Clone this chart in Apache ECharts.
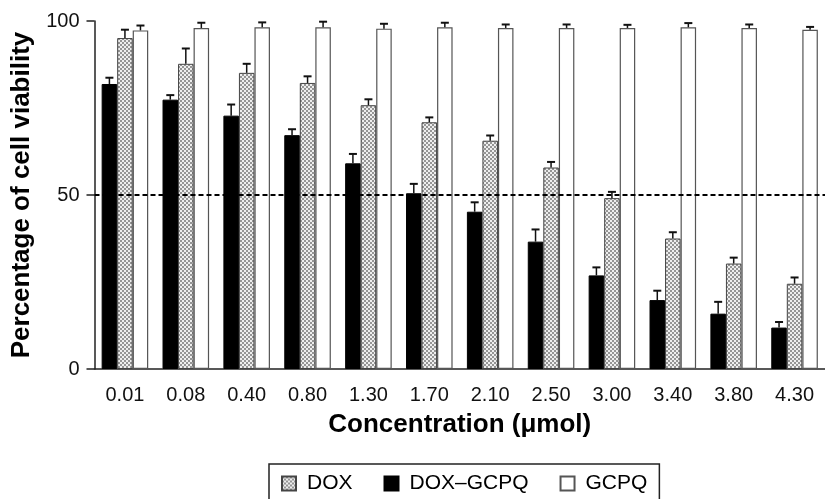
<!DOCTYPE html>
<html>
<head>
<meta charset="utf-8">
<script src="https://cdn.jsdelivr.net/npm/echarts@6/dist/echarts.min.js"></script>
<style>
html,body{margin:0;padding:0;background:#fff;}
#chart{width:825px;height:499px;}
</style>
</head>
<body>
<div id="chart"></div>
<script>
var categories = ['0.01','0.08','0.40','0.80','1.30','1.70','2.10','2.50','3.00','3.40','3.80','4.30'];
var doxGcpq    = [81.9, 77.4, 72.8, 67.2, 59.1, 50.5, 45.2, 36.6, 26.9, 19.8, 15.9, 11.9];
var doxGcpqErr = [1.8, 1.3, 3.2, 1.7, 2.7, 2.7, 2.7, 3.5, 2.3, 2.7, 3.4, 1.6];
var dox        = [95.1, 87.7, 85.1, 82.2, 75.8, 70.9, 65.6, 57.9, 49.1, 37.5, 30.3, 24.5];
var doxErr     = [2.4, 4.4, 2.6, 1.9, 1.7, 1.4, 1.5, 1.6, 1.8, 1.8, 1.7, 1.8];
var gcpq       = [97.3, 98.0, 98.2, 98.2, 97.8, 98.2, 98.0, 98.0, 98.0, 98.2, 98.0, 97.5];
var gcpqErr    = [1.4, 1.5, 1.4, 1.6, 1.4, 1.3, 1.0, 1.0, 0.9, 1.2, 1.0, 0.8];
var yTicks = [0, 50, 100];
var threshold = 50;

var FONT = "'Liberation Sans', Arial, sans-serif";
var BAR_FRAC = 0.255;

// checker pattern for DOX
var pc = document.createElement('canvas');
pc.width = 4; pc.height = 4;
var pctx = pc.getContext('2d');
pctx.fillStyle = '#eeeeee'; pctx.fillRect(0,0,4,4);
pctx.fillStyle = '#959595';
pctx.fillRect(0,0,2,2); pctx.fillRect(2,2,2,2);
var hatch = {image: pc, repeat: 'repeat'};

var groups = [
  {vals: doxGcpq, errs: doxGcpqErr},
  {vals: dox, errs: doxErr},
  {vals: gcpq, errs: gcpqErr}
];
var errData = [];
groups.forEach(function(g, k){
  g.vals.forEach(function(v, i){ errData.push([i, v, v + g.errs[i], k]); });
});

var chart = echarts.init(document.getElementById('chart'), null, {renderer: 'canvas'});
chart.setOption({
  animation: false,
  backgroundColor: '#fff',
  grid: {left: 94.5, top: 21, width: 740, height: 348, containLabel: false},
  legend: {
    left: 269, top: 464,
    data: ['DOX', 'DOX–GCPQ', 'GCPQ'],
    icon: 'rect',
    itemWidth: 14, itemHeight: 14, itemGap: 31,
    padding: [9, 12, 20, 12],
    borderColor: '#222', borderWidth: 1.5,
    textStyle: {fontFamily: FONT, fontSize: 21, color: '#000', padding: [0, 0, 0, 6]}
  },
  xAxis: {
    type: 'category',
    data: categories,
    name: 'Concentration (μmol)',
    nameLocation: 'middle',
    nameGap: 43,
    nameTextStyle: {fontFamily: FONT, fontSize: 26, fontWeight: 'bold', color: '#000'},
    axisLine: {lineStyle: {color: '#222', width: 1.5}},
    axisTick: {alignWithLabel: true, length: 6, lineStyle: {color: '#222', width: 1.5}},
    axisLabel: {fontFamily: FONT, fontSize: 20, color: '#111', margin: 16}
  },
  yAxis: {
    type: 'value',
    min: 0, max: 100, interval: 50,
    name: 'Percentage of cell viability',
    nameLocation: 'middle',
    nameGap: 60,
    nameTextStyle: {fontFamily: FONT, fontSize: 26, fontWeight: 'bold', color: '#000'},
    axisLine: {show: true, lineStyle: {color: '#222', width: 1.5}},
    axisTick: {show: true, length: 8, lineStyle: {color: '#222', width: 1.5}},
    axisLabel: {fontFamily: FONT, fontSize: 20, color: '#111', margin: 15,
      formatter: function(v){ return yTicks.indexOf(v) >= 0 ? String(v) : ''; }},
    splitLine: {show: false}
  },
  series: [
    {name: 'DOX–GCPQ', type: 'bar', data: doxGcpq, barWidth: (BAR_FRAC*100)+'%', barGap: '0%',
      itemStyle: {color: '#000', borderColor: '#000', borderWidth: 1}},
    {name: 'DOX', type: 'bar', data: dox, barWidth: (BAR_FRAC*100)+'%', barGap: '0%',
      itemStyle: {color: hatch, borderColor: '#444', borderWidth: 1}},
    {name: 'GCPQ', type: 'bar', data: gcpq, barWidth: (BAR_FRAC*100)+'%', barGap: '0%',
      itemStyle: {color: '#fff', borderColor: '#555', borderWidth: 1.2}},
    {
      type: 'custom',
      name: 'err',
      z: 5,
      data: errData,
      renderItem: function(params, api){
        var i = api.value(0), k = api.value(3);
        var band = api.size([1, 0])[0];
        var bw = band * BAR_FRAC;
        var c = api.coord([i, api.value(1)]);
        var t = api.coord([i, api.value(2)]);
        var x = c[0] + (k - 1) * bw;
        var capHalf = 4;
        return {
          type: 'group',
          children: [
            {type: 'line', shape: {x1: x, y1: c[1], x2: x, y2: t[1]}, style: {stroke: '#111', lineWidth: 1.5}},
            {type: 'line', shape: {x1: x - capHalf, y1: t[1], x2: x + capHalf, y2: t[1]}, style: {stroke: '#111', lineWidth: 2}}
          ]
        };
      },
      markLine: {
        silent: true,
        symbol: 'none',
        label: {show: false},
        lineStyle: {color: '#000', type: [5, 3], width: 2},
        data: [{yAxis: threshold}]
      }
    }
  ]
});
</script>
</body>
</html>
